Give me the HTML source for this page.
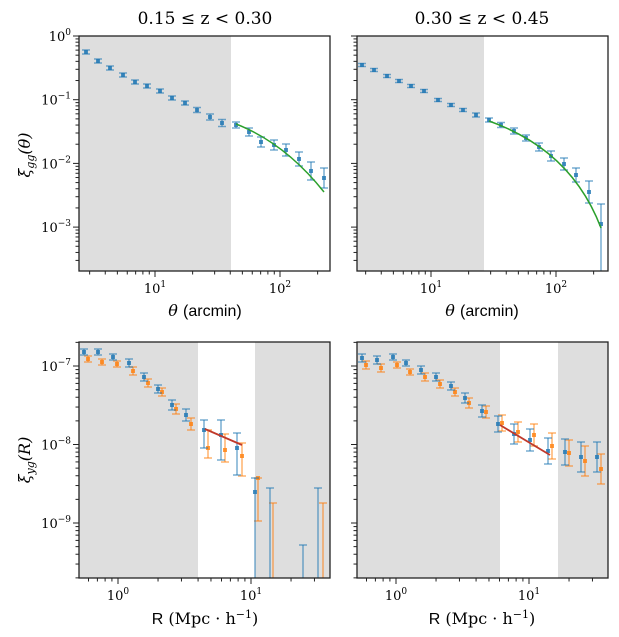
<!DOCTYPE html>
<html><head><style>
body{margin:0;background:#fff;width:619px;height:637px;overflow:hidden}
svg{display:block;font-family:"DejaVu Serif","Liberation Serif",serif}
</style></head><body>
<svg id="s" width="619" height="637" xmlns="http://www.w3.org/2000/svg">
<text x="205" y="24" font-size="17" text-anchor="middle">0.15 ≤ z &lt; 0.30</text>
<text x="482" y="24" font-size="17" text-anchor="middle">0.30 ≤ z &lt; 0.45</text>
<text transform="translate(30,155) rotate(-90)" font-size="16" text-anchor="middle" font-style="italic">ξ<tspan font-size="11" dy="4">gg</tspan><tspan dy="-4">(θ)</tspan></text>
<text transform="translate(30,460) rotate(-90)" font-size="16" text-anchor="middle" font-style="italic">ξ<tspan font-size="11" dy="4">yg</tspan><tspan dy="-4">(R)</tspan></text>
<text x="205" y="316" font-size="16" text-anchor="middle"><tspan font-style="italic">θ</tspan> <tspan font-family="Liberation Sans">(arcmin)</tspan></text>
<text x="482" y="316" font-size="16" text-anchor="middle"><tspan font-style="italic">θ</tspan> <tspan font-family="Liberation Sans">(arcmin)</tspan></text>
<text x="205" y="624" font-size="16" text-anchor="middle"><tspan font-family="Liberation Sans">R</tspan> (Mpc · h<tspan font-size="11" dy="-6">−1</tspan><tspan dy="6">)</tspan></text>
<text x="482" y="624" font-size="16" text-anchor="middle"><tspan font-family="Liberation Sans">R</tspan> (Mpc · h<tspan font-size="11" dy="-6">−1</tspan><tspan dy="6">)</tspan></text>
</svg>
<script>
const s=document.getElementById('s');const NS='http://www.w3.org/2000/svg';
function el(t,a,txt){const e=document.createElementNS(NS,t);for(const k in a)e.setAttribute(k,a[k]);if(txt!==undefined)e.innerHTML=txt;s.appendChild(e);return e;}
const B='#1f77b4',O='#ff7f0e';
function panel(p){
 const{L,R,T,Bt,shade,x0,xd,xlo,xhi,y0,yd,ylo,yhi,ylab}=p;
 el('rect',{x:L,y:T,width:R-L,height:Bt-T,fill:'#fff'});
 shade.forEach(a=>el('rect',{x:a[0],y:T,width:a[1]-a[0],height:Bt-T,fill:'#dedede'}));
 p.draw&&p.draw();
 el('rect',{x:L,y:T,width:R-L,height:Bt-T,fill:'none',stroke:'#222','stroke-width':1.3});
 for(let d=xlo;d<=xhi;d++)for(let m=1;m<10;m++){const x=x0+(d+Math.log10(m))*xd;if(x<L-0.1||x>R+0.1)continue;
  el('line',{x1:x,x2:x,y1:Bt,y2:Bt+(m==1?6:3.5),stroke:'#222','stroke-width':1});
  if(m==1)el('text',{x:x,y:Bt+22,'font-size':13,'text-anchor':'middle'},'10<tspan font-size="9" dy="-6">'+d+'</tspan>');}
 for(let d=ylo;d<=yhi;d++)for(let m=1;m<10;m++){const y=y0-(d+Math.log10(m))*yd;if(y<T-0.1||y>Bt+0.1)continue;
  el('line',{x1:L,x2:L-(m==1?6:3.5),y1:y,y2:y,stroke:'#222','stroke-width':1});
  if(m==1&&ylab)el('text',{x:L-8,y:y+5,'font-size':13,'text-anchor':'end'},'10<tspan font-size="9" dy="-6">'+(d<0?'−'+(-d):d)+'</tspan>');}
}
function eb(x,y,lo,hi,c,bot){const t=lo,b=hi;
 el('line',{x1:x,x2:x,y1:t,y2:b,stroke:c,'stroke-width':1.5,opacity:.6});
 el('line',{x1:x-4,x2:x+4,y1:t,y2:t,stroke:c,'stroke-width':1.5,opacity:.6});
 if(!bot)el('line',{x1:x-4,x2:x+4,y1:b,y2:b,stroke:c,'stroke-width':1.5,opacity:.6});
 if(y!=null)el('rect',{x:x-2,y:y-2,width:4,height:4,fill:c,opacity:.8});}
const tl=[[86,52,2],[98,61,2],[110,68,2],[123,75,2],[135,82,2],[147,86,2],[160,91,2],[172,98,2],[185,103,2],[197,110,2.5],[210,117,3],[222,123,3.5],[236,125,3],[249,132,4],[261,142,5],[274,145,5],[286,150,6],[299,159,7],[311,171,9],[324,178,10]];
const tr=[[362,65,1.5],[374,70,1.5],[387,76,1.5],[399,81,1.5],[411,86,1.5],[424,91,1.5],[438,100,1.5],[451,105,1.5],[463,110,1.5],[476,115,2],[489,120,2],[501,125,2.5],[514,131,3],[526,138,3],[539,147,4],[551,156,5],[564,164,6],[576,175,7],[589,192,11]];
panel({L:79,R:330,T:36,Bt:271,shade:[[79,231]],x0:30,xd:125,xlo:0,xhi:2,y0:36,yd:63.7,ylo:-4,yhi:0,ylab:1,draw(){
 tl.forEach(a=>eb(a[0],a[1],a[1]-a[2],a[1]+a[2],B));
 el('path',{d:'M236,124 Q285,143 324,192',fill:'none',stroke:'#2ca02c','stroke-width':1.5});}});
panel({L:357,R:608,T:36,Bt:271,shade:[[357,484]],x0:306,xd:125,xlo:0,xhi:2,y0:36,yd:63.7,ylo:-4,yhi:0,ylab:0,draw(){
 tr.forEach(a=>eb(a[0],a[1],a[1]-a[2],a[1]+a[2],B));
 eb(601,224,204,271,B,1);
 el('path',{d:'M489,121 C525,134 575,160 601,228',fill:'none',stroke:'#2ca02c','stroke-width':1.5});}});
const bl=[[84,352,3],[98,352,3],[113,357,3],[129,363,4],[144,377,4],[158,389,4],[172,405,5],[186,415,6]];
const blo=[[88,359,3],[102,362,3],[117,364,3],[133,371,4],[148,383,4],[162,392,4],[176,409,5],[191,424,6]];
panel({L:79,R:330,T:342,Bt:578,shade:[[79,198],[255,330]],x0:118,xd:133,xlo:-1,xhi:1,y0:366-7*78.5,yd:78.5,ylo:-10,yhi:-6,ylab:1,draw(){
 blo.forEach(a=>eb(a[0],a[1],a[1]-a[2],a[1]+a[2],O));
 bl.forEach(a=>eb(a[0],a[1],a[1]-a[2],a[1]+a[2],B));
 eb(208,448,430,458,O);eb(225,450,434,462,O);eb(242,456,443,476,O);eb(258,478,478,521,O);
 eb(273,null,503,578,O,1);eb(323,null,503,578,O,1);
 eb(204,430,420,448,B);eb(221,435,420,460,B);eb(237,448,433,475,B);eb(255,492,478,578,B,1);
 eb(270,null,488,578,B,1);eb(303,null,545,578,B,1);eb(318,null,488,578,B,1);
 el('line',{x1:205,y1:429,x2:242,y2:445,stroke:'#c0392b','stroke-width':1.8});}});
const br=[[362,358,4],[377,360,4],[393,357,3],[406,363,3],[421,370,4],[436,377,4],[451,386,4],[465,398,5],[482,411,6],[498,424,8],[514,434,10],[530,440,11],[548,451,13],[565,452,13],[581,457,15],[597,457,15]];
const bro=br.map((a,i)=>[a[0]+4,[365,368,365,372,377,384,392,403,412,423,432,435,446,453,461,469][i],a[2]]);
panel({L:357,R:608,T:342,Bt:578,shade:[[357,500],[558,608]],x0:396,xd:133,xlo:-1,xhi:1,y0:366-7*78.5,yd:78.5,ylo:-10,yhi:-6,ylab:0,draw(){
 bro.forEach(a=>eb(a[0],a[1],a[1]-a[2],a[1]+a[2],O));
 br.forEach(a=>eb(a[0],a[1],a[1]-a[2],a[1]+a[2],B));
 el('line',{x1:500,y1:425,x2:550,y2:455,stroke:'#c0392b','stroke-width':1.8});}});
</script>
</body></html>
